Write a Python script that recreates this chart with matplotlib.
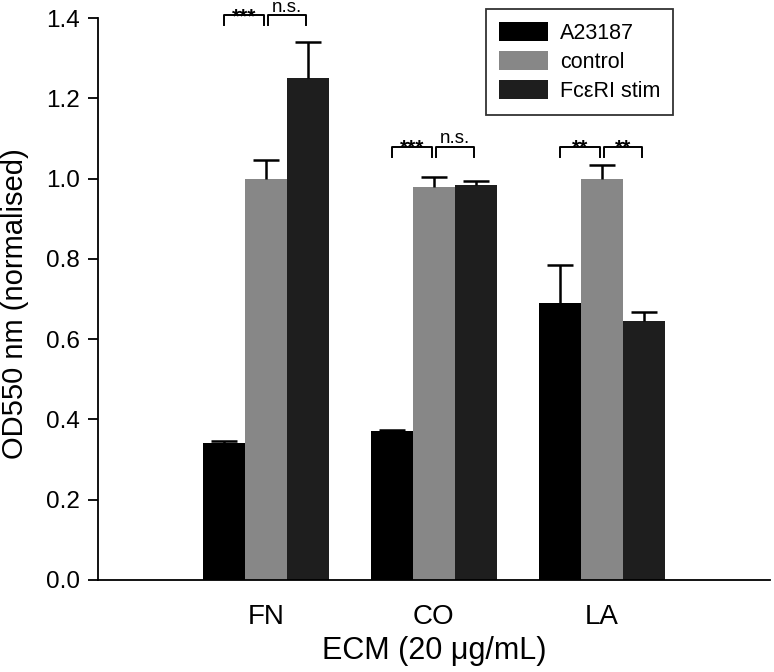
import numpy as np
import matplotlib.pyplot as plt

plt.rcParams['font.family'] = ['Liberation Sans', 'DejaVu Sans']

# data
groups = ['FN', 'CO', 'LA']
a23187 = [0.342, 0.370, 0.690]
a23187_err = [0.005, 0.004, 0.095]
control = [1.000, 0.978, 1.000]
control_err = [0.047, 0.027, 0.033]
fcstim = [1.250, 0.985, 0.645]
fcstim_err = [0.090, 0.010, 0.022]

# significance labels (left pair, right pair) per group
sig_left = ['***', '***', '**']
sig_right = ['n.s.', 'n.s.', '**']
sig_height = [1.382, 1.055, 1.055]

fig = plt.figure(figsize=(7.74, 6.72), dpi=100)
ax = fig.add_axes([0.1266, 0.137, 0.868, 0.836])

x = np.arange(1, len(groups) + 1)
w = 0.25
err_kw = dict(ecolor='black', elinewidth=1.8, capsize=9.5, capthick=1.8)

series = [(x - w, a23187, a23187_err, '#000000', 'A23187'),
          (x, control, control_err, '#878787', 'control'),
          (x + w, fcstim, fcstim_err, '#1e1e1e', 'Fc\u03b5RI stim')]
for xs, vals, errs, col, lab in series:
    bars = ax.bar(xs, vals, w, color=col, label=lab,
                  yerr=[np.zeros(len(vals)), errs], error_kw=err_kw)
    # hide the lower cap sitting on the bar top
    caps = bars.errorbar.lines[1]
    caps[0].set_visible(False)

# brackets
leg_h = 0.025
gap = 0.012
for i, xc in enumerate(x):
    y0 = sig_height[i]
    for (xa, xb, txt) in [(xc - w, xc - gap, sig_left[i]), (xc + gap, xc + w - 0.01, sig_right[i])]:
        ax.plot([xa, xa, xb, xb], [y0, y0 + leg_h, y0 + leg_h, y0],
                color='black', lw=1.4, clip_on=False)
        if txt == 'n.s.':
            ax.text((xa + xb) / 2, y0 + leg_h + 0.008, txt, ha='center', va='baseline',
                    fontsize=13.5, clip_on=False)
        else:
            ax.text((xa + xb) / 2, y0 + leg_h - 0.017, txt, ha='center', va='baseline',
                    fontsize=15, fontweight='bold', clip_on=False)

ax.set_xlim(0, 4)
ax.set_ylim(0, 1.4)
ticks = np.arange(0, 1.41, 0.2)
ax.set_yticks(ticks)
ax.set_yticklabels(['%.1f' % v for v in ticks], fontsize=17.5)
ax.set_xticks(x)
ax.set_xticklabels(groups, fontsize=20)
ax.tick_params(axis='x', length=0, pad=17)
ax.tick_params(axis='y', direction='out', length=7, width=1.3, pad=6)

ax.spines['top'].set_visible(False)
ax.spines['right'].set_visible(False)
ax.spines['left'].set_linewidth(1.3)
ax.spines['bottom'].set_linewidth(1.3)

ax.set_ylabel('OD550 nm (normalised)', fontsize=21)
ax.yaxis.set_label_coords(-0.1034, 0.492)
ax.set_xlabel('ECM (20 \u03bcg/mL)', fontsize=22, labelpad=5)

leg = ax.legend(loc='upper left', bbox_to_anchor=(0.577, 1.016), fontsize=15.5,
                frameon=True, fancybox=False, edgecolor='black', handlelength=2.3,
                handleheight=1.0, borderpad=0.6, labelspacing=0.32,
                handletextpad=0.55, borderaxespad=0)
leg.get_frame().set_linewidth(1.3)

fig.savefig('out.png', dpi=100)
